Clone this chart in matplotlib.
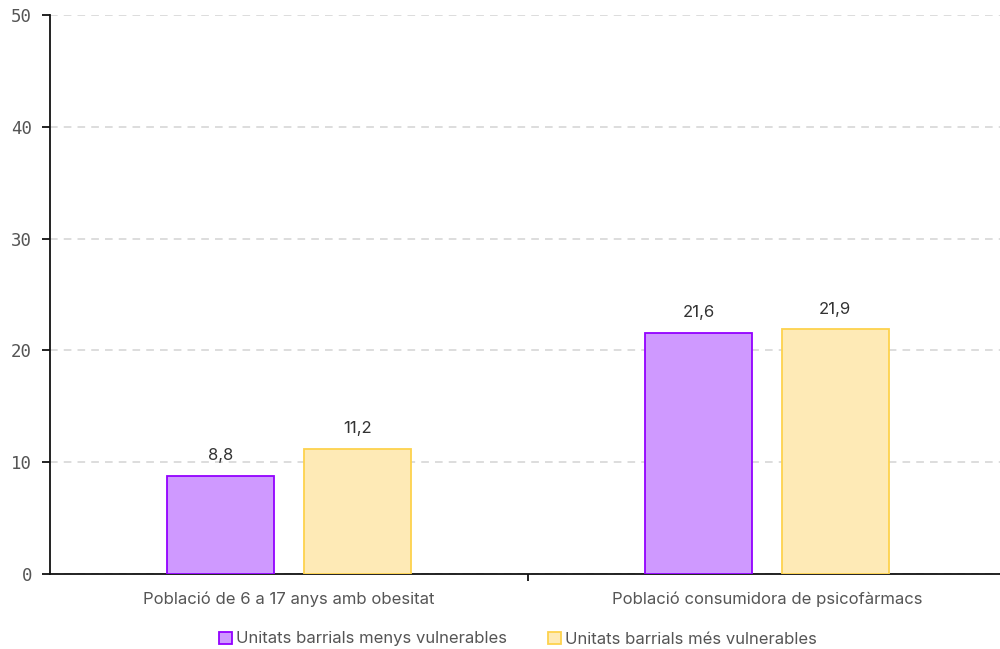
import matplotlib
matplotlib.use("Agg")
import matplotlib.pyplot as plt
import numpy as np
from matplotlib.patches import Patch

categories = ["Població de 6 a 17 anys amb obesitat", "Població consumidora de psicofàrmacs"]
series_names = ["Unitats barrials menys vulnerables", "Unitats barrials més vulnerables"]
menys = [8.8, 21.6]
mes = [11.2, 21.9]
value_labels_menys = ["8,8", "21,6"]
value_labels_mes = ["11,2", "21,9"]
yticks = [0, 10, 20, 30, 40, 50]

fills = ["#cf99ff", "#feeab6"]
edges = ["#9300ff", "#fdd24d"]

plt.rcParams["font.family"] = ["Inter", "DejaVu Sans"]

fig = plt.figure(figsize=(10, 6.49), dpi=100)
ax = fig.add_axes([0.05, 1 - 574 / 649, 0.956, (574 - 15) / 649])

x = np.arange(len(categories))
w = 0.225
off = 0.143
b1 = ax.bar(x - off, menys, w, color=fills[0], edgecolor=edges[0], linewidth=1.3, zorder=3)
b2 = ax.bar(x + off, mes, w, color=fills[1], edgecolor=edges[1], linewidth=1.3, zorder=3)

for rects, labs in ((b1, value_labels_menys), (b2, value_labels_mes)):
    for r, lab in zip(rects, labs):
        ax.annotate(lab, (r.get_x() + r.get_width() / 2, r.get_height()),
                    xytext=(0, 9), textcoords="offset points",
                    ha="center", va="bottom", fontsize=12, color="#333333")

ax.set_xlim(-0.5, 1.5)
ax.set_ylim(0, 50)
ax.set_yticks(yticks)
ax.set_yticklabels([str(v) for v in yticks], family=["DejaVu Sans Mono"], fontsize=12.5, color="#555555")
ax.yaxis.grid(True, linestyle=(0, (5, 4)), color="#d3d3d3", linewidth=1.1, zorder=0)
ax.set_axisbelow(True)
ax.tick_params(axis="y", length=6, width=1.3, color="#111111", pad=7)

ax.set_xticks([0.5], minor=False)
ax.set_xticklabels([""])
ax.tick_params(axis="x", length=5, width=1.3, color="#111111")
for i, c in enumerate(categories):
    ax.text(x[i], -0.045, c, transform=ax.get_xaxis_transform(), ha="center", va="center",
            fontsize=12, color="#555555")

for s in ["top", "right"]:
    ax.spines[s].set_visible(False)
for s in ["left", "bottom"]:
    ax.spines[s].set_color("#111111")
    ax.spines[s].set_linewidth(1.3)

handles = [Patch(facecolor=fills[i], edgecolor=edges[i], linewidth=1.3) for i in range(2)]
fig.legend(handles, series_names, loc="center", bbox_to_anchor=(0.518, 1 - 639 / 649),
           ncol=2, frameon=False, fontsize=12, labelcolor="#555555",
           handlelength=0.75, handleheight=0.75, handletextpad=0.25, columnspacing=2.5)

fig.savefig("out.png", dpi=100)
